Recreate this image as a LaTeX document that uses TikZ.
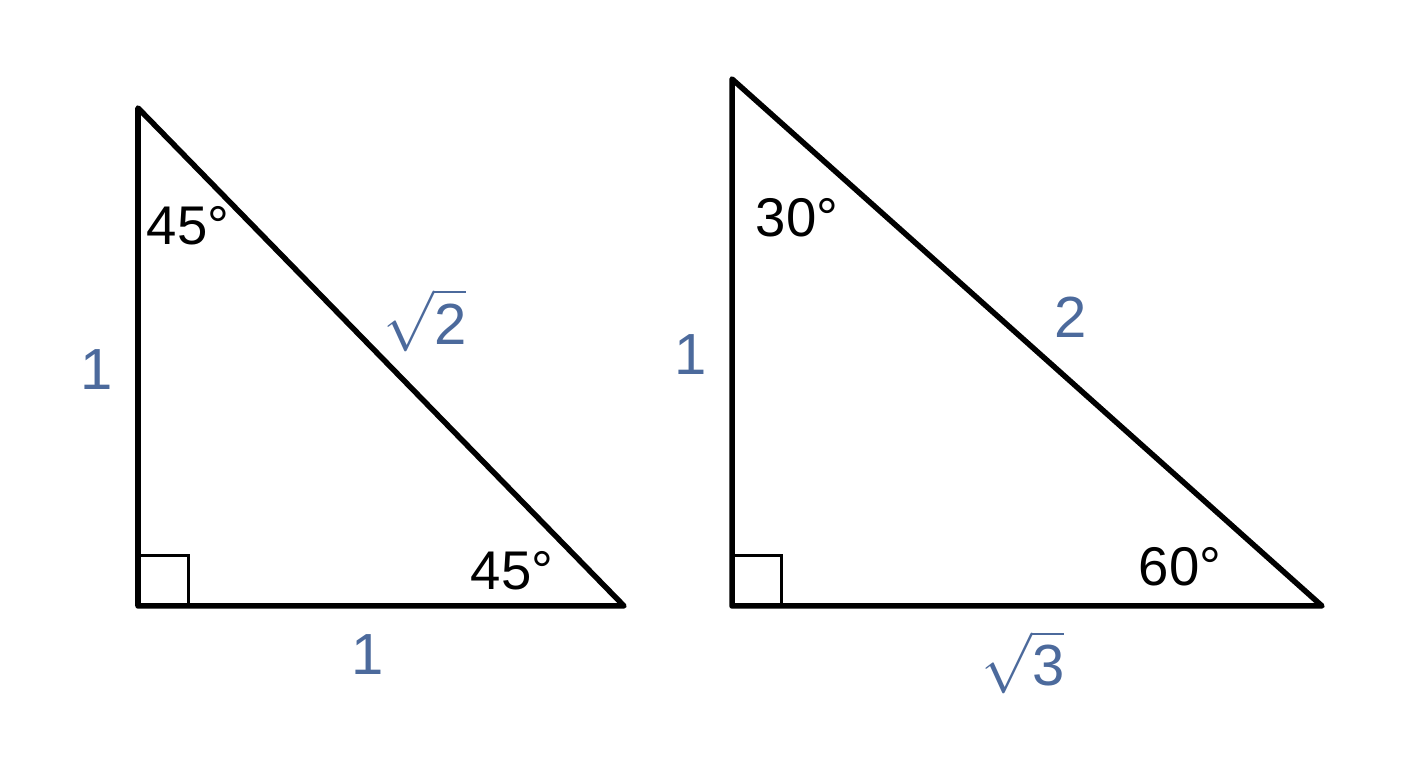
\documentclass[tikz,border=0pt]{standalone}
\usepackage{amsmath}
\usepackage{fontspec}
\setmainfont{Liberation Sans}
\usetikzlibrary{positioning}
\definecolor{sideblue}{RGB}{76,106,156}
\tikzset{
    tri/.style={draw=black, line width=0.55mm, line join=round, line cap=round},
    rightsq/.style={draw=black, line width=0.3mm},
    angle/.style={text=black, font=\fontsize{15.5}{18}\selectfont, inner sep=0pt},
    side/.style={text=sideblue, font=\fontsize{16.5}{19}\selectfont, inner sep=0pt}
}
\begin{document}
\begin{tikzpicture}[x=0.01cm, y=-0.01cm]
\useasboundingbox (0,0) rectangle (1408,768);

% First triangle (45-45-90)
\coordinate (a1) at (138,108);
\coordinate (b1) at (138,606);
\coordinate (c1) at (624,606);
\draw[rightsq] (138,556) rectangle (188,606);
\draw[tri] (a1) -- (b1) -- (c1) -- cycle;

% Second triangle (30-60-90)
\coordinate (a2) at (732,79);
\coordinate (b2) at (732,606);
\coordinate (c2) at (1322,606);
\draw[rightsq] (732,556) rectangle (781,606);
\draw[tri] (a2) -- (b2) -- (c2) -- cycle;

% Angles
\node (ang1a) [angle] at (188,226) {45°};
\node (ang1c) [angle] at (512,571) {45°};
\node (ang2a) [angle] at (797,218) {30°};
\node (ang2c) [angle] at (1180,567) {60°};

% Sides
\node (s1left) [side] at (97,370) {1};
\node (s1bot) [side] at (368,655) {1};
\node (s1hyp) [side] at (425,320) {$\sqrt{\text{2}}$};
\node (s2left) [side] at (691,355) {1};
\node (s2bot) [side] at (1023,662) {$\sqrt{\text{3}}$};
\node (s2hyp) [side] at (1071,317) {2};

\end{tikzpicture}
\end{document}
